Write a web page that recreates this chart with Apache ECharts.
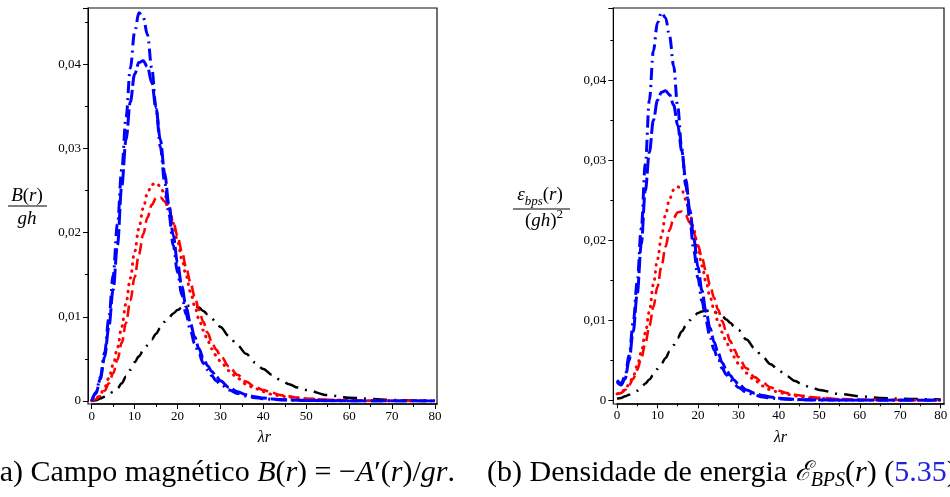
<!DOCTYPE html>
<html><head><meta charset="utf-8">
<script src="https://cdn.jsdelivr.net/npm/echarts@6/dist/echarts.min.js"></script>
<style>html,body{margin:0;padding:0;background:#fff}#c{width:950px;height:497px}</style>
</head><body><div id="c"></div>
<script>
// common abscissa (lambda r)
const X = [0,1,2,3,4,5,6,7,8,9,10,11,12,13,14,15,16,17,18,19,20,21,22,23,24,25,26,27,28,29,30,
           32,34,36,38,40,42,44,46,48,50,55,60,65,70,75,80];
const xTicks = [0,10,20,30,40,50,60,70,80];
const yTicks = [0,0.01,0.02,0.03,0.04];

// (a) B(r)/gh
const aBlueDashDot = [0,0.001,0.0028,0.0057,0.0098,0.015,0.021,0.0275,0.0337,0.0395,0.0438,0.0461,0.0456,0.0435,0.0395,0.0348,0.0302,0.026,0.0222,0.0185,0.0153,0.0126,0.0103,0.0084,0.0068,0.0056,0.0045,0.0037,0.003,0.0024,0.002,
  0.0013,0.0009,0.0006,0.0004,0.00028,0.0002,0.00013,0.0001,0.00007,0.00005,0.00002,0.00001,0,0,0,0];
const aBlueDash = [0,0.0009,0.0026,0.0052,0.0088,0.0132,0.0185,0.0255,0.031,0.0355,0.0388,0.0402,0.0404,0.0397,0.0378,0.0347,0.031,0.0271,0.0233,0.0197,0.0164,0.0136,0.0112,0.0092,0.0076,0.0062,0.0051,0.0042,0.0035,0.0029,0.0024,
  0.0016,0.0011,0.00075,0.0005,0.00035,0.00025,0.00018,0.00013,0.0001,0.00007,0.00003,0.00001,0,0,0,0];
const aRedDot = [0,0.0003,0.0008,0.0016,0.0027,0.0043,0.0063,0.0088,0.0116,0.0146,0.0177,0.0205,0.0229,0.0247,0.0257,0.0259,0.0255,0.0245,0.023,0.0211,0.019,0.0169,0.0149,0.013,0.0113,0.0097,0.0084,0.0072,0.0062,0.0054,0.0047,
  0.0036,0.0027,0.002,0.0015,0.0011,0.0008,0.0006,0.00045,0.00035,0.00026,0.00013,0.00006,0.00003,0.00002,0.00001,0];
const aRedDash = [0,0.0002,0.0006,0.0012,0.0021,0.0033,0.0049,0.0069,0.0093,0.0119,0.0147,0.0174,0.0198,0.0218,0.0233,0.0241,0.0242,0.0237,0.0227,0.0213,0.0196,0.0178,0.0159,0.0141,0.0124,0.0108,0.0094,0.0081,0.007,0.0061,0.0054,
  0.0041,0.0031,0.0023,0.0017,0.0013,0.001,0.0007,0.00055,0.0004,0.0003,0.00015,0.00008,0.00004,0.00002,0.00001,0];
const aBlackDashDot = [0,0.0001,0.0003,0.0005,0.0008,0.0011,0.0015,0.0021,0.0029,0.0037,0.0046,0.0053,0.006,0.0066,0.0073,0.008,0.0087,0.0094,0.0099,0.0104,0.0108,0.0111,0.0113,0.0113,0.0113,0.0111,0.0107,0.0103,0.0098,0.0093,0.0088,
  0.0077,0.0066,0.0056,0.0046,0.0038,0.0031,0.0025,0.002,0.0016,0.0013,0.0007,0.0004,0.00025,0.00013,0.00007,0.00004];

// (b) energy density / (gh)^2
const bBlueDashDot = [0.0025,0.0021,0.003,0.0056,0.0097,0.0148,0.0215,0.0295,0.0375,0.0437,0.0472,0.0485,0.0478,0.0455,0.0418,0.0367,0.0315,0.0268,0.0225,0.0187,0.0153,0.0124,0.0099,0.0079,0.0063,0.005,0.004,0.0032,0.0025,0.002,0.0016,
  0.001,0.00065,0.0004,0.00028,0.00018,0.00012,0.00008,0.00005,0.00003,0.00002,0.00001,0,0,0,0,0];
const bBlueDash = [0.0023,0.0019,0.0027,0.005,0.0086,0.0133,0.0195,0.0262,0.031,0.035,0.0375,0.0385,0.0387,0.0382,0.0369,0.0344,0.0312,0.0276,0.0238,0.0201,0.0167,0.0137,0.0111,0.009,0.0073,0.0059,0.0047,0.0038,0.0031,0.0025,0.002,
  0.0013,0.00088,0.0006,0.0004,0.00027,0.00018,0.00012,0.00008,0.00005,0.00004,0.00002,0.00001,0,0,0,0];
const bRedDot = [0.0008,0.0009,0.0014,0.002,0.003,0.0043,0.006,0.0084,0.0111,0.0145,0.0176,0.0205,0.0232,0.0252,0.0263,0.0267,0.0263,0.0251,0.0234,0.0213,0.019,0.0168,0.0148,0.0129,0.0113,0.0098,0.0085,0.0073,0.0063,0.0054,0.0046,
  0.0034,0.0025,0.0018,0.0013,0.001,0.00075,0.00055,0.0004,0.0003,0.00023,0.00012,0.00006,0.00003,0.00002,0.00001,0];
const bRedDash = [0.0008,0.0009,0.0013,0.0019,0.0027,0.0038,0.0053,0.0071,0.0093,0.0117,0.0142,0.0168,0.0192,0.0213,0.0228,0.0235,0.0236,0.0231,0.0222,0.0209,0.0194,0.0178,0.0161,0.0144,0.0128,0.0113,0.0099,0.0086,0.0074,0.0063,0.0054,
  0.004,0.0029,0.0022,0.0016,0.0012,0.0009,0.0007,0.00055,0.0004,0.0003,0.00016,0.00008,0.00004,0.00002,0.00001,0];
const bBlackDashDot = [0.0002,0.0003,0.0005,0.0007,0.0009,0.0012,0.0016,0.0021,0.0026,0.0032,0.0039,0.0046,0.0053,0.0061,0.0069,0.0078,0.0086,0.0093,0.01,0.0105,0.0109,0.0111,0.0112,0.0112,0.0111,0.0108,0.0105,0.0101,0.0097,0.0092,0.0088,
  0.0076,0.0065,0.0054,0.0045,0.0037,0.003,0.0024,0.0019,0.0016,0.0013,0.0008,0.0005,0.0003,0.0002,0.00015,0.0001];

const zip = ys => X.map((x, i) => [x, ys[i]]);
const SERIF = 'Liberation Serif';

function xAxisCfg(gi, max) {
  return {
    type: 'value', gridIndex: gi, min: 0, max: max, interval: 10, offset: 3,
    axisLine: { show: true, onZero: false, lineStyle: { color: '#000', width: 1.5 } },
    axisTick: { show: true, length: 5, lineStyle: { color: '#000' },
      customValues: xTicks },
    minorTick: { show: true, splitNumber: 2, length: 3, lineStyle: { color: '#000' } },
    axisLabel: { color: '#000', fontFamily: SERIF, fontSize: 13, margin: 6,
      customValues: xTicks },
    splitLine: { show: false },
    name: 'λr', nameLocation: 'middle', nameGap: 26,
    nameTextStyle: { color: '#000', fontFamily: SERIF, fontStyle: 'italic', fontSize: 16 }
  };
}
function yAxisCfg(gi, max) {
  return {
    type: 'value', gridIndex: gi, min: 0, max: max, interval: 0.01, offset: 3.7,
    axisLine: { show: true, onZero: false, lineStyle: { color: '#000', width: 1 } },
    axisTick: { show: true, length: 5, lineStyle: { color: '#000' } },
    minorTick: { show: true, splitNumber: 2, length: 3, lineStyle: { color: '#000' } },
    axisLabel: { color: '#000', fontFamily: SERIF, fontSize: 13, margin: 7,
      showMaxLabel: false,
      formatter: v => v === 0 ? '0' : v.toFixed(2).replace('.', ',') },
    splitLine: { show: false }
  };
}
function line(gi, data, color, width, dash, cap) {
  return {
    type: 'line', xAxisIndex: gi, yAxisIndex: gi, data: zip(data),
    showSymbol: false, symbol: 'none', smooth: 0.35, smoothMonotone: 'x',
    lineStyle: { color: color, width: width, type: dash, cap: cap || 'butt' },
    silent: true, animation: false
  };
}
const BLUE = '#0000ff', RED = '#ff0000', BLACK = '#000000';

const chart = echarts.init(document.getElementById('c'), null, { renderer: 'canvas' });
chart.setOption({
  animation: false,
  backgroundColor: '#fff',
  grid: [
    { left: 91.7, top: 8, width: 345.3, height: 393, containLabel: false, outerBoundsMode: 'none' },
    { left: 617, top: 8, width: 327, height: 392.3, containLabel: false, outerBoundsMode: 'none' }
  ],
  xAxis: [xAxisCfg(0, 80.47), xAxisCfg(1, 80.82)],
  yAxis: [yAxisCfg(0, 0.046675), yAxisCfg(1, 0.04904)],
  series: [
    line(0, aBlackDashDot, BLACK, 2.5, [14, 7, 2, 7]),
    line(0, aRedDash, RED, 2.6, [11, 5]),
    line(0, aRedDot, RED, 3, [0.5, 6.5], 'round'),
    line(0, aBlueDash, BLUE, 3, [16, 4]),
    line(0, aBlueDashDot, BLUE, 3, [12, 5, 2, 5]),
    line(1, bBlackDashDot, BLACK, 2.5, [14, 7, 2, 7]),
    line(1, bRedDash, RED, 2.6, [11, 5]),
    line(1, bRedDot, RED, 3, [0.5, 6.5], 'round'),
    line(1, bBlueDash, BLUE, 3, [16, 4]),
    line(1, bBlueDashDot, BLUE, 3, [12, 5, 2, 5])
  ],
  graphic: { elements: [
    // frames
    { type: 'rect', shape: { x: 88, y: 8, width: 349, height: 396 }, silent: true,
      style: { fill: 'none', stroke: '#111', lineWidth: 1.2 } },
    { type: 'rect', shape: { x: 613.3, y: 8, width: 330.7, height: 396 }, silent: true,
      style: { fill: 'none', stroke: '#111', lineWidth: 1.2 } },
    // y label (a)
    { type: 'text', x: 27, y: 196, silent: true,
      style: { text: '{i|B}{n|(}{i|r}{n|)}', textAlign: 'center', textVerticalAlign: 'middle',
        rich: { i: { fontFamily: SERIF, fontStyle: 'italic', fontSize: 19, fill: '#000' },
                n: { fontFamily: SERIF, fontSize: 19, fill: '#000' } } } },
    { type: 'line', shape: { x1: 8, y1: 206, x2: 47, y2: 206 }, silent: true,
      style: { stroke: '#000', lineWidth: 1 } },
    { type: 'text', x: 27, y: 219, silent: true,
      style: { text: 'gh', textAlign: 'center', textVerticalAlign: 'middle',
        font: 'italic 19px "Liberation Serif"', fill: '#000' } },
    // y label (b)
    { type: 'text', x: 540, y: 195, silent: true,
      style: { text: '{i|ε}{s|bps}{n|(}{i|r}{n|)}', textAlign: 'center', textVerticalAlign: 'middle',
        rich: { i: { fontFamily: SERIF, fontStyle: 'italic', fontSize: 19, fill: '#000', lineHeight: 26 },
                n: { fontFamily: SERIF, fontSize: 19, fill: '#000', lineHeight: 26 },
                s: { fontFamily: SERIF, fontStyle: 'italic', fontSize: 13, fill: '#000', verticalAlign: 'bottom', lineHeight: 14 } } } },
    { type: 'line', shape: { x1: 513, y1: 209, x2: 570, y2: 209 }, silent: true,
      style: { stroke: '#000', lineWidth: 1 } },
    { type: 'text', x: 544, y: 221, silent: true,
      style: { text: '{n|(}{i|gh}{n|)}{p|2}', textAlign: 'center', textVerticalAlign: 'middle',
        rich: { i: { fontFamily: SERIF, fontStyle: 'italic', fontSize: 19, fill: '#000', lineHeight: 26 },
                n: { fontFamily: SERIF, fontSize: 19, fill: '#000', lineHeight: 26 },
                p: { fontFamily: SERIF, fontSize: 13, fill: '#000', verticalAlign: 'top', lineHeight: 14 } } } },
    // captions
    { type: 'text', x: 455, y: 473, silent: true,
      style: { text: '{n|(a) Campo magnético }{i|B}{n|(}{i|r}{n|) = −}{i|A}{n|′(}{i|r}{n|)/}{i|gr}{n|.}',
        textAlign: 'right', textVerticalAlign: 'middle',
        rich: { n: { fontFamily: SERIF, fontSize: 30, fill: '#000', lineHeight: 36 },
                i: { fontFamily: SERIF, fontStyle: 'italic', fontSize: 30, fill: '#000', lineHeight: 36 } } } },
    { type: 'text', x: 487, y: 473, silent: true,
      style: { text: '{n|(b) Densidade de energia }{e|ℰ}{s|BPS}{n|(}{i|r}{n|) (}{b|5.35}{n|)}',
        textAlign: 'left', textVerticalAlign: 'middle',
        rich: { n: { fontFamily: SERIF, fontSize: 30, fill: '#000', lineHeight: 36 },
                i: { fontFamily: SERIF, fontStyle: 'italic', fontSize: 30, fill: '#000', lineHeight: 36 },
                e: { fontFamily: 'DejaVu Serif', fontStyle: 'italic', fontSize: 27, fill: '#000', lineHeight: 36 },
                s: { fontFamily: SERIF, fontStyle: 'italic', fontSize: 20, fill: '#000', verticalAlign: 'bottom', lineHeight: 22 },
                b: { fontFamily: SERIF, fontSize: 30, fill: '#2222dd', lineHeight: 36 } } } }
  ] }
});
</script></body></html>
